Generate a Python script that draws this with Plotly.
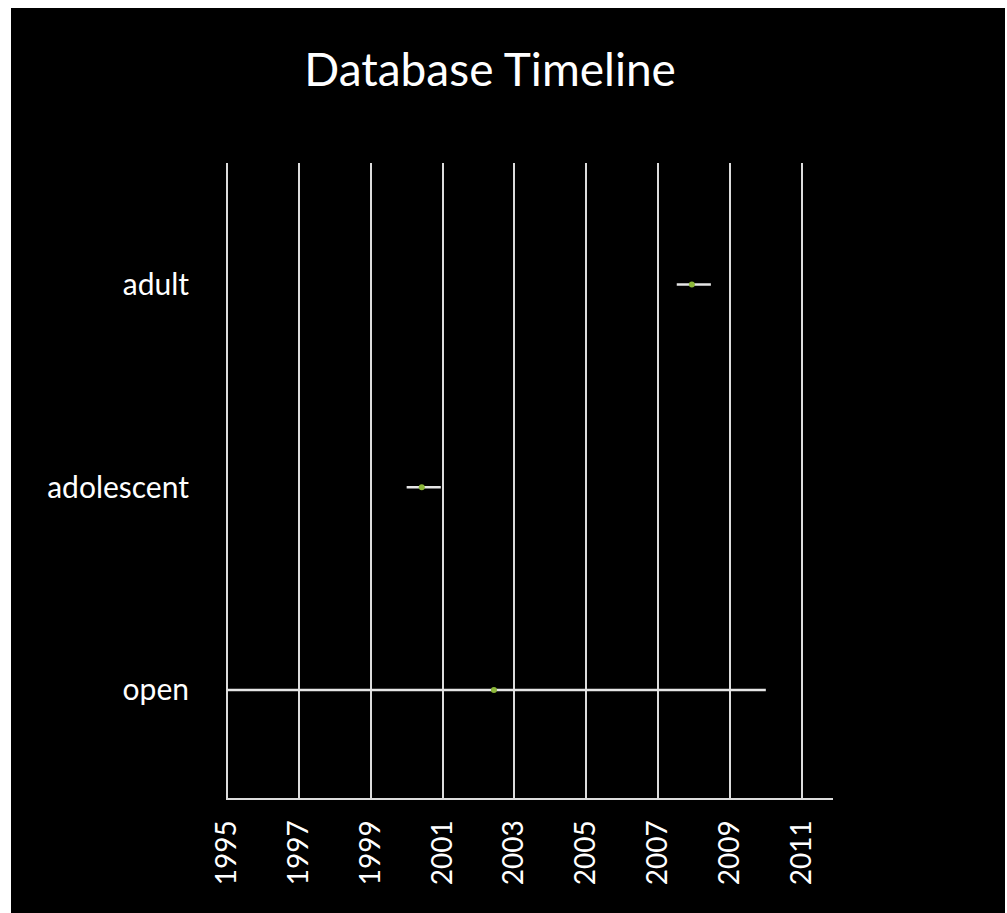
import plotly.graph_objects as go

# Data
categories = ["open", "adolescent", "adult"]
start_years = [1995.0, 2000.0, 2007.52]
end_years = [2010.0, 2000.95, 2008.47]
point_years = [2002.43, 2000.42, 2007.94]
tick_years = [1995, 1997, 1999, 2001, 2003, 2005, 2007, 2009, 2011]

err_plus = [e - p for e, p in zip(end_years, point_years)]
err_minus = [p - s for p, s in zip(point_years, start_years)]

FONT = "Lato, 'Open Sans', sans-serif"

fig = go.Figure()
fig.add_trace(go.Scatter(
    x=point_years,
    y=categories,
    mode="markers",
    marker=dict(color="#8db83a", size=6),
    error_x=dict(type="data", symmetric=False, array=err_plus, arrayminus=err_minus,
                 color="#e6e6e6", thickness=2.5, width=0),
    showlegend=False,
    hoverinfo="x+y",
))

fig.update_layout(
    width=994, height=905,
    paper_bgcolor="black", plot_bgcolor="black",
    margin=dict(l=215, r=172, t=155, b=115),
    title=dict(text="Database Timeline", x=0.482, xanchor="center",
               y=1 - 62 / 905, yanchor="middle", yref="container",
               font=dict(family=FONT, size=46, color="white")),
    font=dict(family=FONT, color="white"),
)

fig.update_xaxes(
    range=[1994.97, 2011.87],
    tickvals=tick_years,
    ticktext=[str(t) for t in tick_years],
    tickangle=-90,
    tickfont=dict(family=FONT, size=28, color="white"),
    showgrid=True, gridcolor="#dcdcdc", gridwidth=2,
    showline=True, linecolor="#dcdcdc", linewidth=2,
    zeroline=False,
    ticks="", ticklabelstandoff=9,
)
fig.update_yaxes(
    type="category",
    categoryorder="array", categoryarray=categories,
    range=[-0.533, 2.6],
    tickfont=dict(family=FONT, size=30, color="white"),
    showgrid=False, showline=False, zeroline=False,
    ticks="", ticklabelstandoff=36,
)

fig.write_html(
    "out.html",
    post_script="document.body.style.margin='8px 0 0 11px';document.body.style.overflow='hidden';document.documentElement.style.background='white';",
)
